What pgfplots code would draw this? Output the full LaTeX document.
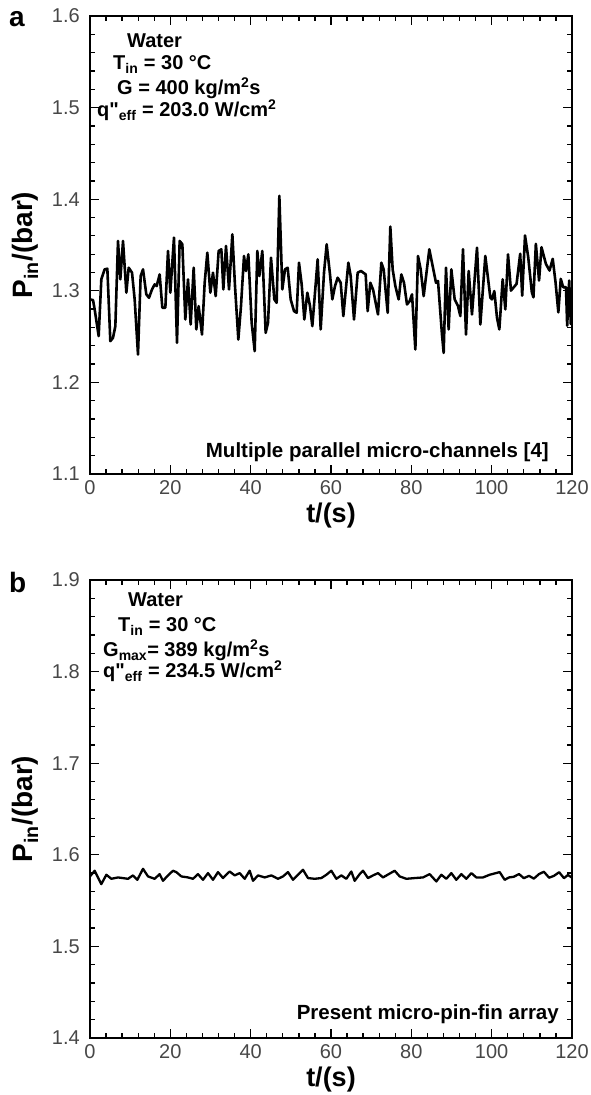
\documentclass[border=0pt]{standalone}
\usepackage{fontspec}
\setmainfont{Liberation Sans}
\usepackage{pgfplots}
\pgfplotsset{compat=1.18}
\newcommand{\qq}{{\addfontfeatures{Ligatures=TeXOff}"}}
\pgfplotsset{mystyle/.style={
  scale only axis, width=482pt, height=458pt,
  xmin=0, xmax=120, xtick={0,20,...,120},
  minor x tick num=4, minor y tick num=4,
  tick align=inside, tick pos=both,
  major tick length=9pt, minor tick length=5pt,
  axis line style={line width=1.5pt},
  every tick/.style={line width=1.3pt, black},
  /pgf/number format/assume math mode=true,
  ticklabel style={font=\fontsize{20}{20}\selectfont, text=black!72},
  yticklabel style={inner sep=0pt, xshift=-10pt},
  xticklabel style={inner sep=0pt, yshift=-6pt},
  yticklabel style={/pgf/number format/.cd, fixed, fixed zerofill, precision=1},
  xlabel={t/(s)}, ylabel={P\textsubscript{in}/(bar)},
  xlabel style={font=\bfseries\fontsize{27}{27}\selectfont, at={(axis description cs:0.5,-0.055)}, anchor=north},
  ylabel style={font=\bfseries\fontsize{28}{28}\selectfont, at={(axis description cs:-0.1,0.5)}, anchor=south},
}}
\begin{document}
\begin{tikzpicture}[x=1pt,y=1pt]
\path[use as bounding box] (0,0) rectangle (590,1095);
\begin{axis}[mystyle, at={(90pt,621pt)}, anchor=south west,
  ymin=1.1, ymax=1.6, ytick={1.1,1.2,...,1.6}]
\addplot[black, line width=2.6pt, line join=round] coordinates {
(0,1.2906) (0.75,1.2899) (1.16,1.2797) (2.16,1.2505) (2.82,1.3125) (3.65,1.3234)
(4.32,1.3241) (5.06,1.2450) (5.73,1.2487) (6.31,1.2614) (6.97,1.3544) (7.55,1.3125)
(8.22,1.3544) (9.05,1.2979) (9.63,1.3252) (10.46,1.3198) (11.12,1.2906) (11.95,1.2304)
(12.61,1.3161) (13.20,1.3234) (14.02,1.2961) (14.69,1.2924) (15.44,1.3015) (16.10,1.3070)
(16.60,1.3052) (17.34,1.3179) (18.01,1.2815) (18.76,1.2815) (19.42,1.3435) (20.00,1.2979)
(20.91,1.3581) (21.66,1.2432) (22.32,1.3544) (22.99,1.3508) (23.73,1.2687) (24.40,1.3125)
(25.06,1.2632) (25.81,1.3252) (26.47,1.2578) (27.05,1.2833) (27.88,1.2523) (28.55,1.3088)
(29.21,1.3416) (29.96,1.2979) (30.62,1.3198) (31.29,1.2942) (32.03,1.3435) (32.70,1.3453)
(33.20,1.3015) (33.86,1.3489) (34.61,1.3015) (35.44,1.3617) (36.10,1.3052) (36.93,1.2468)
(37.59,1.2833) (38.34,1.3380) (38.84,1.3216) (39.42,1.3398) (40.25,1.2651) (41.00,1.2341)
(41.66,1.3435) (42.16,1.3161) (42.90,1.3435) (43.73,1.2541) (44.32,1.2651) (45.06,1.3362)
(45.89,1.2906) (46.47,1.2869) (47.14,1.4036) (47.88,1.3015) (48.55,1.3234) (49.21,1.3252)
(49.96,1.2906) (50.79,1.2778) (51.45,1.2760) (52.03,1.3307) (52.70,1.3070) (53.36,1.2687)
(54.11,1.2979) (54.77,1.2833) (55.35,1.2614) (56.68,1.3344) (57.43,1.2578) (58.26,1.3198)
(58.92,1.3508) (59.75,1.3179) (60.33,1.2906) (61.00,1.3052) (61.66,1.3143) (62.41,1.3088)
(63.07,1.2724) (64.32,1.3307) (64.90,1.3161) (65.73,1.2687) (66.64,1.3198) (67.47,1.3216)
(68.63,1.3179) (69.13,1.2778) (69.79,1.3088) (70.46,1.3015) (71.70,1.2742) (72.53,1.3307)
(73.11,1.3234) (74.11,1.2760) (74.77,1.3701) (75.35,1.3234) (76.02,1.3052) (76.85,1.2906)
(77.51,1.3179) (78.17,1.3088) (78.92,1.2851) (79.59,1.2888) (80.17,1.2961) (81.00,1.2359)
(81.66,1.3380) (82.32,1.3234) (83.07,1.2942) (84.48,1.3453) (85.56,1.3216) (86.14,1.3088)
(86.64,1.3107) (87.63,1.2523) (88.05,1.2322) (88.63,1.3252) (89.29,1.2578) (89.96,1.3234)
(90.79,1.2906) (91.62,1.2833) (92.20,1.2724) (92.86,1.3453) (93.61,1.2523) (94.27,1.3216)
(95.10,1.2742) (96.35,1.3471) (97.18,1.2632) (98.42,1.3380) (99.67,1.2924) (100.08,1.2906)
(100.66,1.2997) (101.33,1.2705) (101.91,1.2578) (102.74,1.3125) (103.40,1.2797) (104.07,1.3398)
(104.8,1.3002) (106.2,1.3075) (107.1,1.3404) (107.6,1.2947) (108.3,1.3604) (109.1,1.3367)
(110.0,1.2984) (110.4,1.2929) (111.0,1.3513) (111.8,1.3112) (112.4,1.3476) (113.5,1.3294)
(114.4,1.3221) (115.2,1.3349) (115.9,1.3093) (116.6,1.2765) (117.2,1.3130) (117.8,1.3039)
(118.5,1.3039) (118.8,1.2619) (119.3,1.3112) (119.7,1.2638) (120,1.2700)
};
\end{axis}
\begin{axis}[mystyle, at={(90pt,57pt)}, anchor=south west,
  ymin=1.4, ymax=1.9, ytick={1.4,1.5,...,1.9}]
\addplot[black, line width=2.3pt, line join=round] coordinates {
(0,1.5764) (1.16,1.5826) (2.82,1.5680) (4.07,1.5782) (5.31,1.5738) (6.97,1.5753)
(9.46,1.5738) (10.71,1.5775) (11.78,1.5727) (13.20,1.5847) (14.44,1.5764) (16.10,1.5738)
(17.34,1.5789) (18.17,1.5716) (19.42,1.5775) (20.66,1.5826) (21.49,1.5811) (22.74,1.5764)
(24.40,1.5753) (25.64,1.5738) (26.89,1.5789) (28.13,1.5727) (29.38,1.5800) (30.62,1.5727)
(31.87,1.5811) (33.11,1.5746) (34.77,1.5818) (36.02,1.5775) (37.26,1.5800) (38.51,1.5738)
(39.75,1.5826) (40.58,1.5716) (41.83,1.5775) (43.49,1.5753) (45.15,1.5775) (46.80,1.5738)
(48.05,1.5764) (49.29,1.5811) (50.54,1.5727) (53.03,1.5836) (54.27,1.5746) (55.93,1.5738)
(57.59,1.5746) (58.84,1.5782) (60.08,1.5826) (61.33,1.5738) (62.57,1.5775) (63.82,1.5738)
(65.06,1.5818) (65.89,1.5716) (67.14,1.5789) (67.97,1.5826) (69.21,1.5746) (70.46,1.5775)
(71.70,1.5800) (72.95,1.5753) (75.85,1.5826) (77.10,1.5764) (78.76,1.5738) (80.83,1.5746)
(82.90,1.5753) (84.56,1.5789) (86.22,1.5709) (87.47,1.5782) (88.71,1.5738) (89.96,1.5800)
(91.20,1.5727) (92.45,1.5789) (93.69,1.5738) (94.94,1.5800) (96.18,1.5753) (97.84,1.5753)
(99.50,1.5782) (101.99,1.5811) (103.24,1.5727) (104.32,1.5753) (105.5,1.5760) (106.8,1.5790)
(108.0,1.5745) (109.3,1.5770) (110.5,1.5740) (111.8,1.5790) (113.0,1.5815) (114.3,1.5750)
(115.5,1.5770) (116.8,1.5810) (118.0,1.5745) (119.0,1.5780) (120,1.5750)
};
\end{axis}
\begin{scope}[every node/.style={anchor=base west, inner sep=0pt, font=\bfseries\fontsize{20}{20}\selectfont}]
\node[font=\bfseries\fontsize{28}{28}\selectfont] at (9,1068) {a};
\node at (127,1047) {Water};
\node at (113,1025) {T\textsubscript{in} = 30 °C};
\node at (117,1000) {G = 400 kg/m\textsuperscript{2}s};
\node at (97,978) {q\qq\textsubscript{eff} = 203.0 W/cm\textsuperscript{2}};
\node[anchor=base east, font=\bfseries\fontsize{20.5}{20.5}\selectfont] at (549,637) {Multiple parallel micro-channels [4]};
\node[font=\bfseries\fontsize{28}{28}\selectfont] at (9,502) {b};
\node at (128,488) {Water};
\node at (118,463) {T\textsubscript{in} = 30 °C};
\node at (103,438) {G\textsubscript{max}= 389 kg/m\textsuperscript{2}s};
\node at (103,417) {q\qq\textsubscript{eff} = 234.5 W/cm\textsuperscript{2}};
\node[anchor=base east, font=\bfseries\fontsize{20.5}{20.5}\selectfont] at (559,75) {Present micro-pin-fin array};
\end{scope}
\end{tikzpicture}
\end{document}
